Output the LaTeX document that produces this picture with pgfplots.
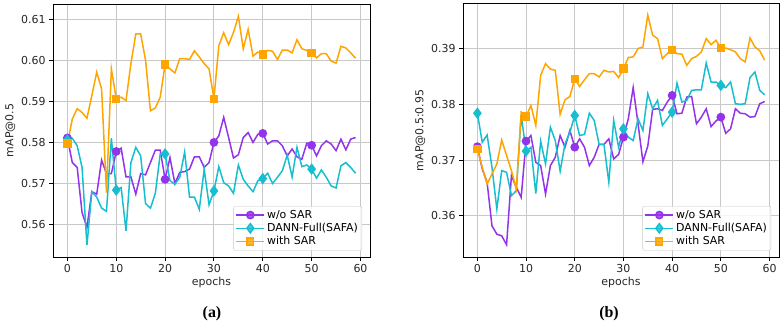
\documentclass[border=0pt]{standalone}
\usepackage{fontspec}
\setmainfont{DejaVu Sans}
\newfontfamily\capfont{Liberation Serif}
\usepackage{pgfplots}
\pgfplotsset{compat=1.18}
\definecolor{cpurple}{HTML}{9333EA}
\definecolor{ccyan}{HTML}{17BECF}
\definecolor{corange}{HTML}{FFA500}
\definecolor{cgrid}{HTML}{C8C8C8}
\definecolor{ctext}{HTML}{262626}
\pgfplotsset{
  common/.style={
    scale only axis, anchor=south west,
    xmin=-2.95, xmax=61.95,
    xtick={0,10,...,60},
    grid=major,
    major grid style={cgrid, line width=1bp},
    axis line style={black, line width=1bp},
    tick align=outside, xtick pos=left, ytick pos=left,
    major tick length=4bp,
    tick style={black, line width=1bp},
    /pgf/number format/assume math mode=true,
    ticklabel style={font=\fontsize{11}{13}\selectfont, text=ctext},
    label style={font=\fontsize{11}{13}\selectfont, text=ctext},
    xlabel={epochs},
    xlabel style={yshift=2bp},
    yticklabel style={/pgf/number format/fixed, /pgf/number format/precision=2, /pgf/number format/fixed zerofill},
    legend style={at={(0.975,0.025)}, anchor=south east, font=\fontsize{11}{13}\selectfont,
      draw=cgrid, rounded corners=2bp, fill=white, fill opacity=0.8, text opacity=1,
      inner sep=2bp, row sep=-0.5bp},
    legend image code/.code={\draw[mark repeat=2,mark phase=2] plot coordinates {(0bp,0bp) (14bp,0bp) (28bp,0bp)};},
    legend cell align=left,
    every axis plot/.append style={line width=1.5bp, mark repeat=10, mark phase=1},
  },
  sp/.style={cpurple, mark=*, mark size=3.6bp, mark options={solid, fill=cpurple}},
  sc/.style={ccyan, mark=diamond*, mark size=4.6bp, mark options={solid, fill=ccyan}},
  so/.style={corange, mark=square*, mark size=3.4bp, mark options={solid, fill=corange}},
}
\begin{document}
\begin{tikzpicture}
\path (0,0) rectangle (783bp,326bp);
\begin{axis}[common, at={(53bp,69bp)}, width=317bp, height=253bp,
  ymin=0.5521, ymax=0.6137, ytick={0.56,0.57,...,0.61}, ylabel={mAP@0.5},
  ylabel style={yshift=-1bp}]
\addplot[sp] coordinates {
(0,0.5811)(1,0.5751)(2,0.5739)(3,0.5629)(4,0.5593)(5,0.5680)(6,0.5674)(7,0.5757)(8,0.5724)(9,0.5724)
(10,0.5778)(11,0.5786)(12,0.5716)(13,0.5716)(14,0.5674)(15,0.5724)(16,0.5721)(17,0.5751)(18,0.5781)(19,0.5781)
(20,0.5710)(21,0.5763)(22,0.5700)(23,0.5727)(24,0.5729)(25,0.5735)(26,0.5765)(27,0.5765)(28,0.5739)(29,0.5751)
(30,0.5800)(31,0.5816)(32,0.5861)(33,0.5812)(34,0.5762)(35,0.5770)(36,0.5812)(37,0.5824)(38,0.5800)(39,0.5820)
(40,0.5822)(41,0.5796)(42,0.5804)(43,0.5804)(44,0.5792)(45,0.5767)(46,0.5784)(47,0.5765)(48,0.5759)(49,0.5798)
(50,0.5793)(51,0.5767)(52,0.5792)(53,0.5804)(54,0.5796)(55,0.5780)(56,0.5808)(57,0.5782)(58,0.5808)(59,0.5812)};
\addlegendentry{w/o SAR}
\addplot[sc] coordinates {
(0,0.5806)(1,0.5810)(2,0.5792)(3,0.5739)(4,0.5550)(5,0.5680)(6,0.5667)(7,0.5640)(8,0.5632)(9,0.5810)
(10,0.5684)(11,0.5690)(12,0.5585)(13,0.5751)(14,0.5788)(15,0.5767)(16,0.5651)(17,0.5640)(18,0.5676)(19,0.5772)
(20,0.5772)(21,0.5707)(22,0.5698)(23,0.5715)(24,0.5777)(25,0.5667)(26,0.5667)(27,0.5637)(28,0.5735)(29,0.5648)
(30,0.5682)(31,0.5741)(32,0.5702)(33,0.5694)(34,0.5676)(35,0.5745)(36,0.5710)(37,0.5694)(38,0.5680)(39,0.5707)
(40,0.5712)(41,0.5725)(42,0.5700)(43,0.5715)(44,0.5731)(45,0.5769)(46,0.5716)(47,0.5788)(48,0.5741)(49,0.5745)
(50,0.5735)(51,0.5713)(52,0.5733)(53,0.5715)(54,0.5694)(55,0.5689)(56,0.5743)(57,0.5751)(58,0.5739)(59,0.5725)};
\addlegendentry{DANN-Full(SAFA)}
\addplot[so] coordinates {
(0,0.5797)(1,0.5857)(2,0.5882)(3,0.5873)(4,0.5859)(5,0.5914)(6,0.5971)(7,0.5930)(8,0.5678)(9,0.5979)
(10,0.5906)(11,0.5910)(12,0.5902)(13,0.5992)(14,0.6064)(15,0.6064)(16,0.6000)(17,0.5877)(18,0.5884)(19,0.5910)
(20,0.5990)(21,0.5979)(22,0.5969)(23,0.6004)(24,0.6004)(25,0.6002)(26,0.6023)(27,0.6008)(28,0.5992)(29,0.5979)
(30,0.5906)(31,0.6036)(32,0.6067)(33,0.6038)(34,0.6068)(35,0.6107)(36,0.6028)(37,0.6075)(38,0.6010)(39,0.6020)
(40,0.6014)(41,0.6024)(42,0.6022)(43,0.6002)(44,0.6025)(45,0.6025)(46,0.6018)(47,0.6050)(48,0.6028)(49,0.6024)
(50,0.6018)(51,0.6006)(52,0.6016)(53,0.6016)(54,0.5998)(55,0.5993)(56,0.6034)(57,0.6030)(58,0.6018)(59,0.6005)};
\addlegendentry{with SAR}
\end{axis}
\begin{axis}[common, at={(463bp,69bp)}, width=316bp, height=253bp,
  ymin=0.3526, ymax=0.3980, ytick={0.36,0.37,...,0.39}, ylabel={mAP@0.5:0.95},
  ylabel style={yshift=-1bp}]
\addplot[sp] coordinates {
(0,0.3724)(1,0.3684)(2,0.3660)(3,0.3582)(4,0.3567)(5,0.3564)(6,0.3548)(7,0.3672)(8,0.3651)(9,0.3633)
(10,0.3734)(11,0.3744)(12,0.3696)(13,0.3690)(14,0.3639)(15,0.3690)(16,0.3705)(17,0.3744)(18,0.3723)(19,0.3753)
(20,0.3723)(21,0.3738)(22,0.3723)(23,0.3690)(24,0.3705)(25,0.3728)(26,0.3728)(27,0.3738)(28,0.3702)(29,0.3710)
(30,0.3741)(31,0.3774)(32,0.3830)(33,0.3765)(34,0.3697)(35,0.3725)(36,0.3791)(37,0.3792)(38,0.3789)(39,0.3804)
(40,0.3816)(41,0.3783)(42,0.3784)(43,0.3813)(44,0.3814)(45,0.3765)(46,0.3777)(47,0.3792)(48,0.3760)(49,0.3770)
(50,0.3777)(51,0.3748)(52,0.3756)(53,0.3792)(54,0.3784)(55,0.3783)(56,0.3777)(57,0.3778)(58,0.3801)(59,0.3805)};
\addlegendentry{w/o SAR}
\addplot[sc] coordinates {
(0,0.3784)(1,0.3732)(2,0.3745)(3,0.3687)(4,0.3612)(5,0.3681)(6,0.3678)(7,0.3636)(8,0.3645)(9,0.3780)
(10,0.3716)(11,0.3723)(12,0.3640)(13,0.3734)(14,0.3693)(15,0.3759)(16,0.3735)(17,0.3680)(18,0.3729)(19,0.3750)
(20,0.3780)(21,0.3744)(22,0.3746)(23,0.3784)(24,0.3771)(25,0.3728)(26,0.3728)(27,0.3660)(28,0.3771)(29,0.3723)
(30,0.3756)(31,0.3741)(32,0.3735)(33,0.3774)(34,0.3753)(35,0.3819)(36,0.3792)(37,0.3807)(38,0.3762)(39,0.3774)
(40,0.3786)(41,0.3838)(42,0.3804)(43,0.3807)(44,0.3825)(45,0.3826)(46,0.3826)(47,0.3874)(48,0.3840)(49,0.3840)
(50,0.3834)(51,0.3830)(52,0.3840)(53,0.3801)(54,0.3800)(55,0.3801)(56,0.3848)(57,0.3858)(58,0.3825)(59,0.3817)};
\addlegendentry{DANN-Full(SAFA)}
\addplot[so] coordinates {
(0,0.3720)(1,0.3687)(2,0.3657)(3,0.3675)(4,0.3693)(5,0.3736)(6,0.3708)(7,0.3681)(8,0.3648)(9,0.3786)
(10,0.3778)(11,0.3798)(12,0.3762)(13,0.3852)(14,0.3873)(15,0.3863)(16,0.3861)(17,0.3782)(18,0.3808)(19,0.3814)
(20,0.3846)(21,0.3832)(22,0.3844)(23,0.3855)(24,0.3855)(25,0.3849)(26,0.3861)(27,0.3858)(28,0.3859)(29,0.3848)
(30,0.3864)(31,0.3884)(32,0.3885)(33,0.3900)(34,0.3903)(35,0.3960)(36,0.3924)(37,0.3918)(38,0.3882)(39,0.3891)
(40,0.3898)(41,0.3891)(42,0.3890)(43,0.3870)(44,0.3882)(45,0.3886)(46,0.3894)(47,0.3918)(48,0.3907)(49,0.3915)
(50,0.3901)(51,0.3901)(52,0.3898)(53,0.3894)(54,0.3882)(55,0.3876)(56,0.3919)(57,0.3903)(58,0.3896)(59,0.3879)};
\addlegendentry{with SAR}
\end{axis}
\node[font=\capfont\bfseries\fontsize{16}{18}\selectfont] at (212bp,12bp) {(a)};
\node[font=\capfont\bfseries\fontsize{16}{18}\selectfont] at (609bp,12bp) {(b)};
\end{tikzpicture}
\end{document}
